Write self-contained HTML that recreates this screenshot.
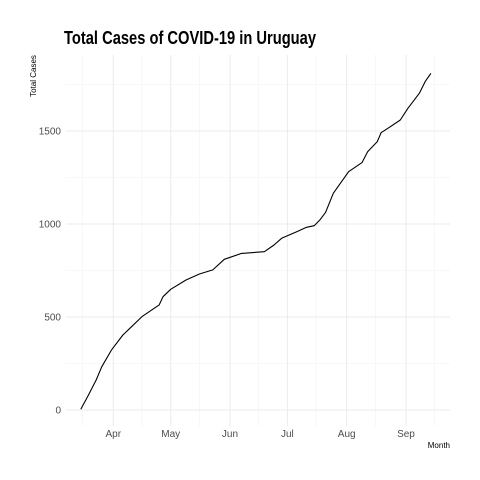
<!DOCTYPE html>
<html><head><meta charset="utf-8"><style>
body{margin:0;background:#fff;}
svg{display:block;font-family:"Liberation Sans",sans-serif;}
</style></head><body>
<svg id="chart" width="480" height="480">
<text x="64" y="44" font-size="18" font-weight="bold" fill="#000" textLength="252" lengthAdjust="spacingAndGlyphs">Total Cases of COVID-19 in Uruguay</text>
<text transform="translate(36,76) rotate(-90)" text-anchor="middle" font-size="8" fill="#000">Total Cases</text>
<text x="450" y="448" text-anchor="end" font-size="8" fill="#000">Month</text>
<g id="grid"></g><g id="axes"></g><g id="series"></g>
</svg>
<script>
const dates=["2020-03-15","2020-03-19","2020-03-23","2020-03-26","2020-03-31","2020-04-06","2020-04-16","2020-04-25","2020-04-27","2020-05-01","2020-05-09","2020-05-16","2020-05-23","2020-05-29","2020-06-07","2020-06-19","2020-06-24","2020-06-28","2020-07-06","2020-07-11","2020-07-15","2020-07-18","2020-07-21","2020-07-25","2020-08-02","2020-08-09","2020-08-12","2020-08-17","2020-08-19","2020-08-23","2020-08-29","2020-09-02","2020-09-08","2020-09-11","2020-09-14"];
const cases=[4,80,161,233,322,403,502,565,609,649,699,731,753,810,842,851,887,923,959,982,991,1022,1063,1165,1281,1330,1389,1443,1491,1518,1559,1622,1703,1765,1810];
const yTicks=[0,500,1000,1500];
const monthLabels=["Apr","May","Jun","Jul","Aug","Sep"];
const monthDates=["2020-04-01","2020-05-01","2020-06-01","2020-07-01","2020-08-01","2020-09-01"];
const minorDates=["2020-03-16","2020-04-16","2020-05-16","2020-06-16","2020-07-16","2020-08-16","2020-09-16"];
const NS="http://www.w3.org/2000/svg";
const t0=Date.UTC(2020,2,1);
function days(s){const p=s.split('-');return (Date.UTC(+p[0],p[1]-1,+p[2])-t0)/864e5;}
function X(s){return 54+1.913*days(s);}
function Y(v){return 410-0.186*v;}
const L=66,R=450,T=55,B=426;
const grid=document.getElementById('grid'),axes=document.getElementById('axes'),series=document.getElementById('series');
function line(g,x1,y1,x2,y2,c,w){const l=document.createElementNS(NS,'line');l.setAttribute('x1',x1);l.setAttribute('y1',y1);l.setAttribute('x2',x2);l.setAttribute('y2',y2);l.setAttribute('stroke',c);l.setAttribute('stroke-width',w);g.appendChild(l);return l;}
function text(g,x,y,s,anchor){const t=document.createElementNS(NS,'text');t.setAttribute('x',x);t.setAttribute('y',y);t.setAttribute('text-anchor',anchor);t.setAttribute('font-size','10');t.setAttribute('fill','#4d4d4d');t.textContent=s;g.appendChild(t);return t;}
for(let i=0;i<yTicks.length;i++){
  const y=Y(yTicks[i]);
  const l=line(grid,L,y,R,y,'#ebebeb',1);
  
  
  const m=line(grid,L,Y(yTicks[i]+250),R,Y(yTicks[i]+250),'#f2f2f2',0.6);
  
  
  const t=text(axes,61,y+3.5,String(yTicks[i]),'end');
  
  
}
for(let i=0;i<monthDates.length;i++){
  const x=X(monthDates[i]);
  const l=line(grid,x,T,x,B,'#ebebeb',1);
  
  
  const t=text(axes,x,437,monthLabels[i],'middle');
  
  
}
for(let i=0;i<minorDates.length;i++){
  const x=X(minorDates[i]);
  const l=line(grid,x,T,x,B,'#f2f2f2',0.6);
  
  
}
const p=document.createElementNS(NS,'polyline');
p.setAttribute('points',dates.map((d,i)=>X(d).toFixed(1)+','+Y(cases[i]).toFixed(1)).join(' '));
p.setAttribute('fill','none');p.setAttribute('stroke','#000');p.setAttribute('stroke-width','1.1');p.setAttribute('stroke-linejoin','round');


series.appendChild(p);
</script>
</body></html>
